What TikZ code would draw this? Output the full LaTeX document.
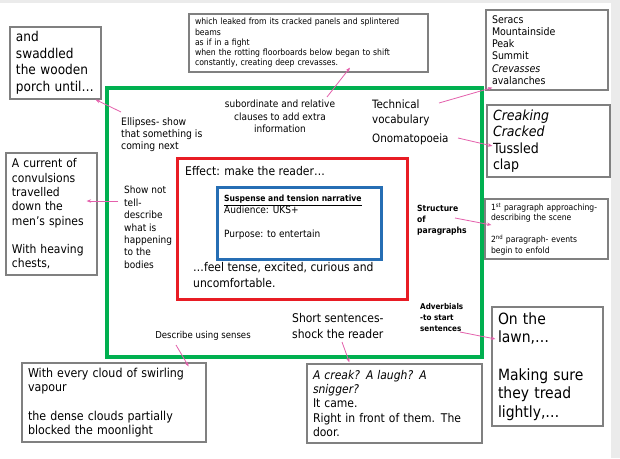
\documentclass[tikz,border=0pt]{standalone}
\usepackage{fontspec}
\setmainfont{DejaVu Sans Condensed}
\usepackage{tikz}
\usetikzlibrary{arrows.meta}
\definecolor{framegreen}{RGB}{0,176,80}
\definecolor{framered}{RGB}{232,28,36}
\definecolor{frameblue}{RGB}{38,110,180}
\definecolor{boxgray}{RGB}{128,128,128}
\definecolor{linkpink}{RGB}{228,96,172}
\newcommand{\fsz}[2]{\fontsize{#1}{#2}\selectfont}
\tikzset{exbox/.style={draw=boxgray, line width=1.2pt, align=left,
         inner xsep=6pt, inner ysep=0pt},
         note/.style={align=left, inner sep=0pt, anchor=north west},
         link/.style={linkpink, line width=0.8pt,
         -{Stealth[length=4.5pt,width=3.5pt]}}}

\begin{document}
\begin{tikzpicture}[x=1pt,y=-1pt]
\useasboundingbox (0,0) rectangle (620,458);
\fill [black!8] (0,0) rectangle (620,458);
\fill [white] (0,3) rectangle (611,458);

\node [draw=framegreen, line width=4pt, minimum width=375pt, minimum height=269pt] (outer) at (294.5,222.5) {};
\node [draw=framered, line width=3pt, minimum width=230pt, minimum height=141pt] (effectframe) at (292,228.5) {};
\node [draw=frameblue, line width=3pt, minimum width=164pt, minimum height=72pt] (purposeframe) at (299,223) {};

% example boxes round the frame
\node [exbox, text width=79pt, minimum height=72pt, font=\fsz{13.5}{16.5}] (swaddle) at (55.5,63) {and\\ swaddled\\ the wooden\\ porch until…};
\node [exbox, text width=227pt, minimum height=58pt, font=\fsz{8.6}{10.2}] (leaked) at (308.5,43) {which leaked from its cracked panels and splintered\\ beams\\ as if in a fight\\ when the rotting floorboards below began to shift\\ constantly, creating deep crevasses.};
\node [exbox, text width=110pt, minimum height=80pt, font=\fsz{10.5}{12.3}] (seracs) at (547,50) {Seracs\\ Mountainside\\ Peak\\ Summit\\ \textit{Crevasses}\\ avalanches};
\node [exbox, text width=111pt, minimum height=72pt, font=\fsz{14}{16.3}] (creaking) at (548.5,141) {\textit{Creaking}\\ \textit{Cracked}\\ Tussled\\ clap};
\node [exbox, text width=111pt, minimum height=60pt, font=\fsz{8.5}{10.7}] (paras) at (546.5,229) {1\textsuperscript{st} paragraph approaching-\\ describing the scene\\[10.7pt] 2\textsuperscript{nd} paragraph- events\\ begin to enfold};
\node [exbox, text width=99pt, minimum height=119pt, font=\fsz{15.5}{18.6}] (lawn) at (547.5,366.5) {On the\\ lawn,…\\[18.6pt] Making sure\\ they tread\\ lightly,…};
\node [exbox, text width=163pt, minimum height=79pt, font=\fsz{12}{14.3}] (creak) at (394.5,403.5) {\textit{A creak? A laugh? A}\\ \textit{snigger?}\\ It came.\\ Right in front of them. The\\ door.};
\node [exbox, text width=172pt, minimum height=79pt, font=\fsz{12.3}{14.2}] (cloud) at (114,402.5) {With every cloud of swirling\\ vapour\\[14.2pt] the dense clouds partially\\ blocked the moonlight};
\node [exbox, text width=79pt, minimum height=122pt, font=\fsz{12}{14.3}] (current) at (51.5,214) {A current of\\ convulsions\\ travelled\\ down the\\ men’s spines\\[14.3pt] With heaving\\ chests,};

% techniques inside the frame
\node [note, font=\fsz{10.3}{12}] (ellipses) at (121,117) {Ellipses- show\\ that something is\\ coming next};
\node [note, anchor=north, align=center, font=\fsz{10}{12.5}] (subord) at (280,100) {subordinate and relative\\ clauses to add extra\\ information};
\node [note, font=\fsz{11.5}{15}] (technical) at (372,100) {Technical\\ vocabulary};
\node [note, font=\fsz{11.5}{15}] (onomato) at (372,134) {Onomatopoeia};
\node [note, font=\fsz{10}{12.4}] (shownot) at (124,186) {Show not\\ tell-\\ describe\\ what is\\ happening\\ to the\\ bodies};
\node [note, font=\fsz{12}{16}] (effect) at (185,166) {Effect: make the reader…};
\node [note, font=\fsz{12}{16}] (feel) at (193,262) {…feel tense, excited, curious and\\ uncomfortable.};
\node [note, font=\fsz{10}{12}] (purpose) at (224,195) {{\fsz{8.5}{12}\underline{\textbf{Suspense and tension narrative}}}\\ Audience: UKS+\\[12pt] Purpose: to entertain};
\node [note, font=\bfseries\fsz{8.5}{11}] (structure) at (417,205) {Structure\\ of\\ paragraphs};
\node [note, font=\bfseries\fsz{8}{11}] (adverbials) at (420,303) {Adverbials\\ -to start\\ sentences};
\node [note, font=\fsz{12}{16}] (short) at (292,313) {Short sentences-\\ shock the reader};
\node [note, anchor=center, font=\fsz{9.5}{12}] (describe) at (203,336) {Describe using senses};

\draw [link] ([yshift=5pt]ellipses.north west) -- ([xshift=-6pt]swaddle.south east);
\draw [link] ([xshift=47pt,yshift=3pt]subord.north) -- ([xshift=41.5pt,yshift=5pt]leaked.south);
\draw [link] ([xshift=67pt,yshift=-3pt]technical.north west) -- ([xshift=7pt,yshift=3pt]seracs.south west);
\draw [link] ([xshift=86pt,yshift=-4pt]onomato.north west) -- ([xshift=6pt,yshift=-5pt]creaking.west);
\draw [link] ([xshift=-6pt,yshift=-15pt]shownot.north west) -- ([xshift=-11pt,yshift=13pt]current.east);
\draw [link] ([xshift=38pt,yshift=-13pt]structure.north west) -- ([xshift=7pt,yshift=4pt]paras.west);
\draw [link] ([xshift=40pt,yshift=-29pt]adverbials.north west) -- ([xshift=4pt,yshift=27.5pt]lawn.west);
\draw [link] ([xshift=50pt,yshift=-29pt]short.north west) -- ([xshift=43pt,yshift=1pt]creak.north west);
\draw [link] ([xshift=-27pt,yshift=-9pt]describe.center) -- ([xshift=-18pt,yshift=-4pt]cloud.north east);
\end{tikzpicture}
\end{document}
